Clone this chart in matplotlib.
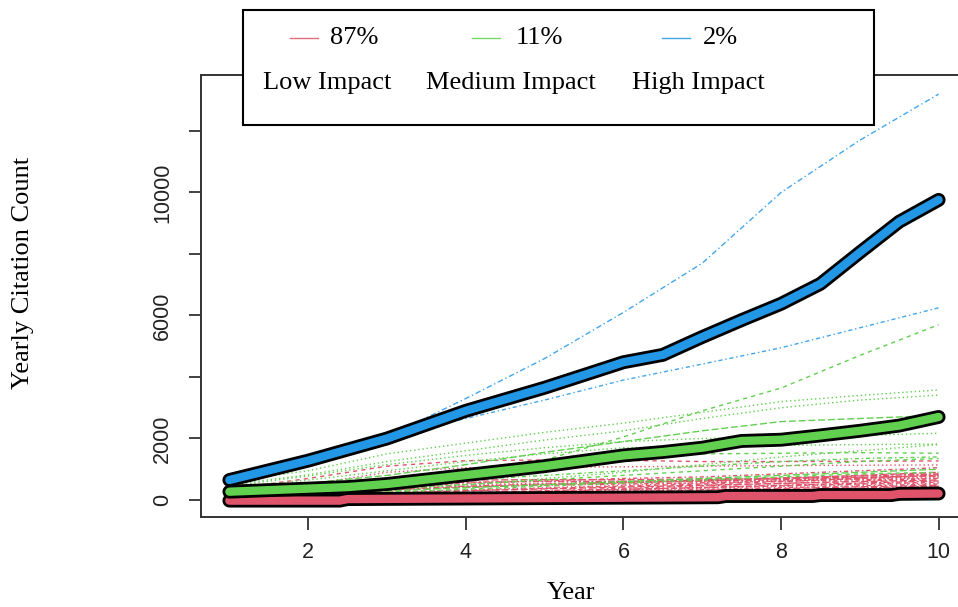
import matplotlib
matplotlib.use("Agg")
import matplotlib.pyplot as plt
from matplotlib.lines import Line2D
from matplotlib.patches import Rectangle

# colours (R 4.x default palette)
RED = "#DF536B"
GREEN = "#61D04F"
BLUE = "#2297E6"

years = [1, 2, 3, 4, 5, 6, 7, 8, 9, 10]

# low impact papers (thin red lines)
low_lines = [
    [350, 700, 1100, 1280, 1300, 1290, 1250, 1250, 1260, 1270],
    [200, 500, 900, 1050, 1060, 1080, 1100, 1120, 1130, 1140],
    [100, 250, 400, 550, 620, 700, 750, 850, 950, 1050],
    [50, 150, 300, 420, 500, 560, 620, 700, 800, 900],
    [80, 200, 350, 450, 520, 580, 650, 720, 780, 850],
    [30, 100, 200, 300, 380, 450, 520, 600, 700, 800],
    [60, 150, 250, 330, 400, 480, 550, 620, 690, 760],
    [20, 80, 150, 230, 300, 380, 460, 540, 620, 700],
    [40, 120, 220, 300, 360, 420, 480, 540, 600, 650],
    [10, 60, 130, 200, 270, 340, 410, 480, 550, 620],
    [30, 90, 170, 240, 300, 350, 400, 460, 520, 580],
    [20, 70, 140, 200, 260, 320, 380, 440, 500, 550],
    [10, 50, 110, 170, 230, 290, 340, 400, 460, 520],
    [0, 40, 90, 150, 210, 270, 320, 370, 430, 480],
    [10, 40, 80, 130, 180, 230, 280, 330, 390, 450],
    [0, 30, 70, 110, 160, 210, 260, 310, 360, 430],
    [150, 300, 420, 500, 540, 570, 600, 640, 680, 720],
    [100, 220, 330, 420, 480, 520, 560, 610, 660, 700],
    [250, 450, 600, 650, 660, 660, 680, 700, 740, 780],
    [120, 300, 500, 580, 600, 610, 620, 660, 720, 820],
]

# medium impact papers (thin green lines)
medium_lines = [
    [280, 380, 550, 850, 1300, 2050, 2900, 3640, 4700, 5700],
    [600, 950, 1500, 1850, 2200, 2500, 2850, 3200, 3400, 3580],
    [500, 820, 1250, 1600, 1950, 2250, 2650, 3000, 3250, 3410],
    [350, 550, 800, 1150, 1550, 1900, 2250, 2550, 2650, 2750],
    [450, 780, 1150, 1450, 1700, 1900, 2000, 2050, 2100, 2170],
    [400, 650, 950, 1250, 1500, 1700, 1750, 1780, 1800, 1820],
    [300, 450, 700, 1000, 1250, 1450, 1500, 1520, 1540, 1520],
    [250, 350, 500, 650, 800, 950, 1100, 1250, 1350, 1400],
    [200, 280, 380, 500, 650, 800, 950, 1100, 1250, 1350],
    [150, 250, 350, 500, 700, 900, 1150, 1400, 1600, 1800],
    [100, 200, 300, 400, 500, 600, 700, 800, 900, 1000],
    [100, 150, 250, 350, 450, 550, 650, 750, 850, 900],
]

# high impact papers (thin blue lines)
high_lines = [
    [600, 1250, 2050, 3300, 4600, 6100, 7700, 10000, 11700, 13200],
    [600, 1250, 2100, 2650, 3250, 3900, 4420, 4950, 5600, 6250],
]

# group averages (thick lines)
low_mean_x = [1, 2.4, 2.5, 7.2, 7.3, 8.4, 8.5, 9.4, 9.5, 10]
low_mean = [-20, -20, 30, 90, 130, 130, 160, 160, 200, 210]
medium_mean_x = [1, 2, 2.5, 3, 4, 5, 6, 6.5, 7, 7.5, 8, 8.5, 9, 9.5, 10]
medium_mean = [270, 370, 420, 520, 810, 1100, 1450, 1560, 1700, 1920, 1960, 2100, 2250, 2420, 2700]
high_mean_x = [1, 2, 3, 4, 5, 6, 6.5, 7, 7.5, 8, 8.5, 9, 9.5, 10]
high_mean = [650, 1280, 2000, 2900, 3650, 4480, 4720, 5300, 5850, 6380, 7030, 8050, 9050, 9760]

shares = ["87%", "11%", "2%"]
groups = ["Low Impact", "Medium Impact", "High Impact"]

# R line types 2..6
DASHED = (0, (3, 3))
DOTTED = (0, (1, 2))
DOTDASH = (0, (1, 2, 3, 2))
LONGDASH = (0, (5, 2))
TWODASH = (0, (1.5, 1.5, 4.5, 1.5))
ltys = [DASHED, DOTTED, DOTDASH, LONGDASH, TWODASH]
medium_ltys = [DASHED, DOTTED, DOTTED, LONGDASH, DOTTED, DOTTED,
               DASHED, DOTDASH, DASHED, DOTTED, LONGDASH, DASHED]

SERIF = "Liberation Serif"
SANS = "Liberation Sans"

fig = plt.figure(figsize=(9.58, 6.07), dpi=100)
ax = fig.add_axes([201 / 958, 1 - 517 / 607, 766 / 958, 442 / 607])

for i, ys in enumerate(low_lines):
    ax.plot(years, ys, color=RED, lw=1.0, ls=ltys[i % 5])
for ys, ls in zip(medium_lines, medium_ltys):
    ax.plot(years, ys, color=GREEN, lw=1.0, ls=ls)
ax.plot(years, high_lines[0], color=BLUE, lw=1.0, alpha=0.85, ls=(0, (4, 2, 1, 2)))
ax.plot(years, high_lines[1], color=BLUE, lw=1.0, alpha=0.85, ls=DOTDASH)

# thick averages with black outline
for xs, ys, c in [(low_mean_x, low_mean, RED),
                  (medium_mean_x, medium_mean, GREEN),
                  (high_mean_x, high_mean, BLUE)]:
    ax.plot(xs, ys, color="black", lw=10, solid_capstyle="round", solid_joinstyle="round")
    ax.plot(xs, ys, color=c, lw=6, solid_capstyle="round", solid_joinstyle="round")

ax.set_xlim(0.64, 10.36)
ax.set_ylim(-553, 13821)
ax.set_xticks([2, 4, 6, 8, 10])
ax.set_yticks([0, 2000, 4000, 6000, 8000, 10000, 12000])
ax.set_yticklabels(["0", "2000", "", "6000", "", "10000", ""])

for s in ax.spines.values():
    s.set_color("#333333")
    s.set_linewidth(1.4)
ax.tick_params(length=9, width=1.3, color="#333333", labelcolor="#222222", labelsize=15.5)
ax.tick_params(axis="x", pad=9)
ax.tick_params(axis="y", pad=11)
for lab in ax.get_xticklabels() + ax.get_yticklabels():
    lab.set_fontfamily(SANS)
for lab in ax.get_yticklabels():
    lab.set_rotation(90)
    lab.set_va("center")

ax.set_xlabel("Year", fontsize=19, family=SERIF)
ax.xaxis.set_label_coords(0.483, -0.172)
ax.xaxis.label.set_va("center")
ax.set_ylabel("Yearly Citation Count", fontsize=19, family=SERIF)
ax.yaxis.set_label_coords(-0.232, 0.552)
ax.yaxis.label.set_va("center")

# legend box drawn above the plot region
W, H = 958.0, 607.0
fig.add_artist(Rectangle((243 / W, 1 - 125 / H), 631 / W, 115 / H, transform=fig.transFigure,
                         facecolor="white", edgecolor="black", lw=1.5, zorder=10))
line_x = [290, 472, 662]
text_x = [330, 516, 703]
row2_x = [263, 426, 632]
for c, lx, tx, rx, sh, g in zip([RED, GREEN, BLUE], line_x, text_x, row2_x, shares, groups):
    fig.add_artist(Line2D([lx / W, (lx + 28) / W], [1 - 38 / H, 1 - 38 / H], transform=fig.transFigure,
                          color=c, lw=1, alpha=0.85, zorder=11))
    fig.text(tx / W, 1 - 38 / H, sh, fontsize=19, family=SERIF, va="center", zorder=11)
    fig.text(rx / W, 1 - 83 / H, g, fontsize=19, family=SERIF, va="center", zorder=11)

fig.savefig("out.png", dpi=100)
